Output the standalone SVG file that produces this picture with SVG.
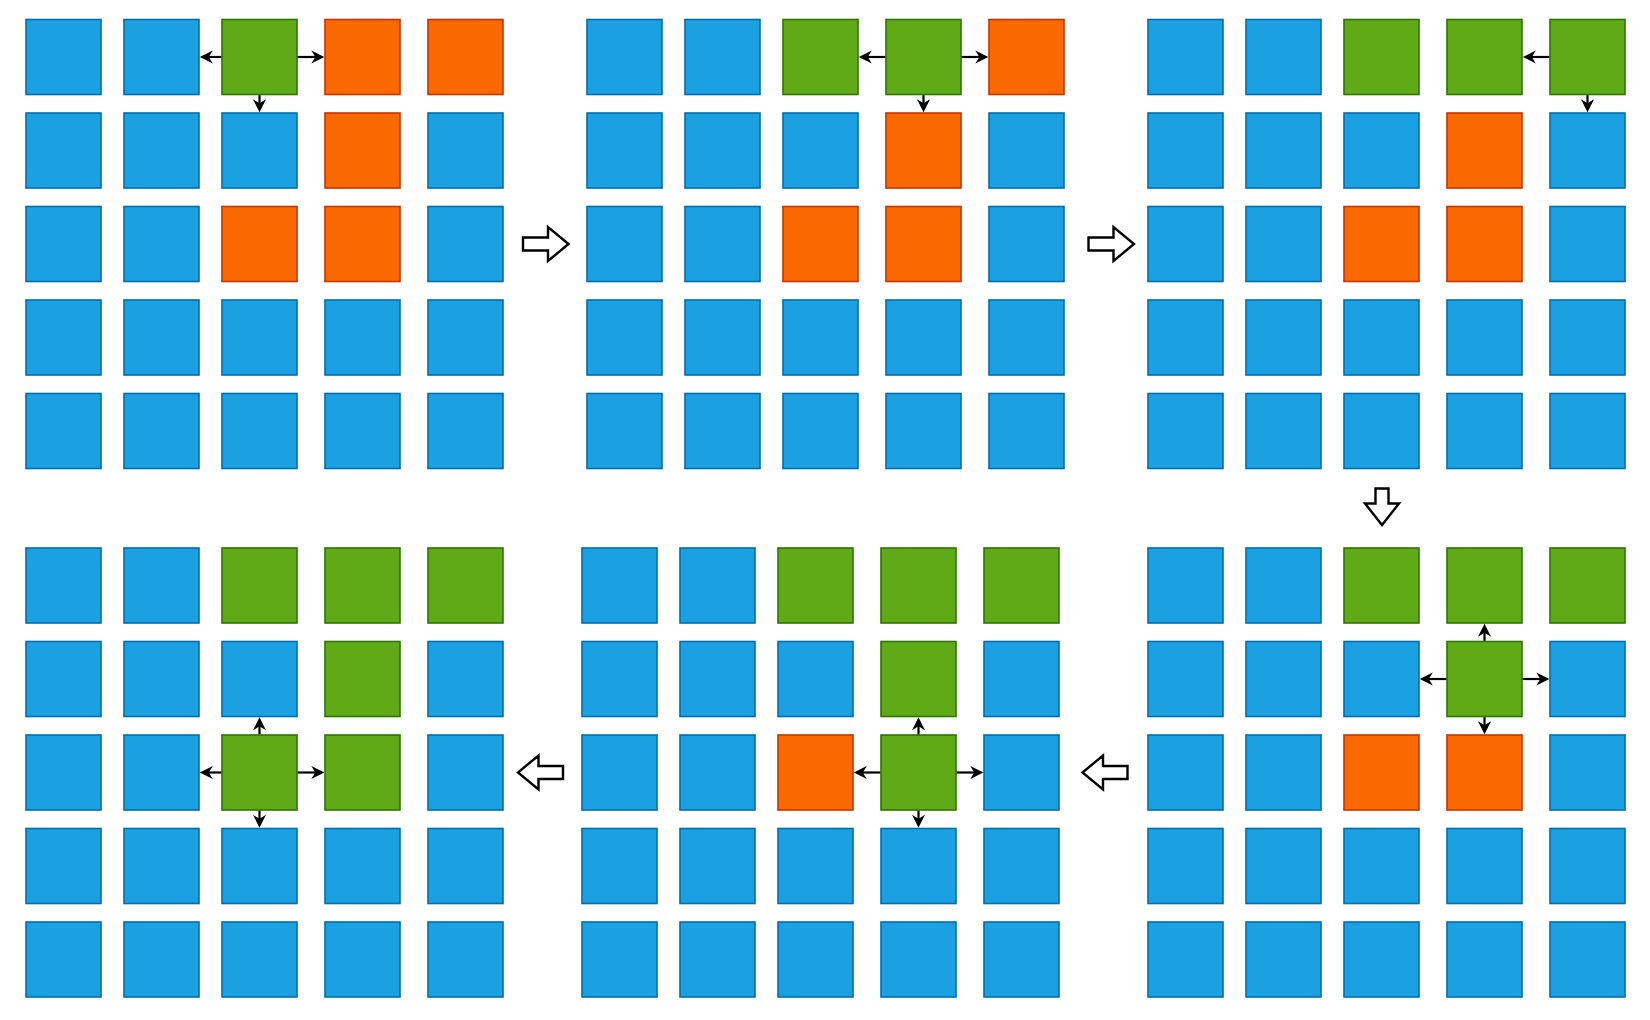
<svg xmlns="http://www.w3.org/2000/svg" xmlns:xlink="http://www.w3.org/1999/xlink" width="1650" height="1020" viewBox="0 0 1650 1020">
<style>
.b{fill:#1ba1e2;stroke:#006eaf;stroke-width:1.6}
.g{fill:#60a917;stroke:#2d7600;stroke-width:1.6}
.o{fill:#fa6800;stroke:#c73500;stroke-width:1.6}
.c{stroke:#000;stroke-width:2.2;fill:none;marker-end:url(#ah)}
.big{fill:#fff;stroke:#000;stroke-width:2.4;stroke-linejoin:miter}
</style>
<defs>
<rect id="s" width="75" height="75"/>
<marker id="ah" markerUnits="userSpaceOnUse" markerWidth="14" markerHeight="14" viewBox="0 0 14 14" refX="7" refY="7" orient="auto">
<path d="M13,7 L0,0.5 L4,7 L0,13.5 Z" fill="#000"/>
</marker>
</defs>
<rect width="1650" height="1020" fill="#fff"/>

<g id="panelA">
<use id="A00" href="#s" class="b" x="26" y="19.5"/><use id="A01" href="#s" class="b" x="124" y="19.5"/><use id="A02" href="#s" class="g" x="222" y="19.5"/><use id="A03" href="#s" class="o" x="325" y="19.5"/><use id="A04" href="#s" class="o" x="428" y="19.5"/>
<use id="A10" href="#s" class="b" x="26" y="113"/><use id="A11" href="#s" class="b" x="124" y="113"/><use id="A12" href="#s" class="b" x="222" y="113"/><use id="A13" href="#s" class="o" x="325" y="113"/><use id="A14" href="#s" class="b" x="428" y="113"/>
<use id="A20" href="#s" class="b" x="26" y="206.5"/><use id="A21" href="#s" class="b" x="124" y="206.5"/><use id="A22" href="#s" class="o" x="222" y="206.5"/><use id="A23" href="#s" class="o" x="325" y="206.5"/><use id="A24" href="#s" class="b" x="428" y="206.5"/>
<use id="A30" href="#s" class="b" x="26" y="300"/><use id="A31" href="#s" class="b" x="124" y="300"/><use id="A32" href="#s" class="b" x="222" y="300"/><use id="A33" href="#s" class="b" x="325" y="300"/><use id="A34" href="#s" class="b" x="428" y="300"/>
<use id="A40" href="#s" class="b" x="26" y="393.5"/><use id="A41" href="#s" class="b" x="124" y="393.5"/><use id="A42" href="#s" class="b" x="222" y="393.5"/><use id="A43" href="#s" class="b" x="325" y="393.5"/><use id="A44" href="#s" class="b" x="428" y="393.5"/>
</g>

<g id="panelB">
<use id="B00" href="#s" class="b" x="587" y="19.5"/><use id="B01" href="#s" class="b" x="685" y="19.5"/><use id="B02" href="#s" class="g" x="783" y="19.5"/><use id="B03" href="#s" class="g" x="886" y="19.5"/><use id="B04" href="#s" class="o" x="989" y="19.5"/>
<use id="B10" href="#s" class="b" x="587" y="113"/><use id="B11" href="#s" class="b" x="685" y="113"/><use id="B12" href="#s" class="b" x="783" y="113"/><use id="B13" href="#s" class="o" x="886" y="113"/><use id="B14" href="#s" class="b" x="989" y="113"/>
<use id="B20" href="#s" class="b" x="587" y="206.5"/><use id="B21" href="#s" class="b" x="685" y="206.5"/><use id="B22" href="#s" class="o" x="783" y="206.5"/><use id="B23" href="#s" class="o" x="886" y="206.5"/><use id="B24" href="#s" class="b" x="989" y="206.5"/>
<use id="B30" href="#s" class="b" x="587" y="300"/><use id="B31" href="#s" class="b" x="685" y="300"/><use id="B32" href="#s" class="b" x="783" y="300"/><use id="B33" href="#s" class="b" x="886" y="300"/><use id="B34" href="#s" class="b" x="989" y="300"/>
<use id="B40" href="#s" class="b" x="587" y="393.5"/><use id="B41" href="#s" class="b" x="685" y="393.5"/><use id="B42" href="#s" class="b" x="783" y="393.5"/><use id="B43" href="#s" class="b" x="886" y="393.5"/><use id="B44" href="#s" class="b" x="989" y="393.5"/>
</g>

<g id="panelC">
<use id="C00" href="#s" class="b" x="1148" y="19.5"/><use id="C01" href="#s" class="b" x="1246" y="19.5"/><use id="C02" href="#s" class="g" x="1344" y="19.5"/><use id="C03" href="#s" class="g" x="1447" y="19.5"/><use id="C04" href="#s" class="g" x="1550" y="19.5"/>
<use id="C10" href="#s" class="b" x="1148" y="113"/><use id="C11" href="#s" class="b" x="1246" y="113"/><use id="C12" href="#s" class="b" x="1344" y="113"/><use id="C13" href="#s" class="o" x="1447" y="113"/><use id="C14" href="#s" class="b" x="1550" y="113"/>
<use id="C20" href="#s" class="b" x="1148" y="206.5"/><use id="C21" href="#s" class="b" x="1246" y="206.5"/><use id="C22" href="#s" class="o" x="1344" y="206.5"/><use id="C23" href="#s" class="o" x="1447" y="206.5"/><use id="C24" href="#s" class="b" x="1550" y="206.5"/>
<use id="C30" href="#s" class="b" x="1148" y="300"/><use id="C31" href="#s" class="b" x="1246" y="300"/><use id="C32" href="#s" class="b" x="1344" y="300"/><use id="C33" href="#s" class="b" x="1447" y="300"/><use id="C34" href="#s" class="b" x="1550" y="300"/>
<use id="C40" href="#s" class="b" x="1148" y="393.5"/><use id="C41" href="#s" class="b" x="1246" y="393.5"/><use id="C42" href="#s" class="b" x="1344" y="393.5"/><use id="C43" href="#s" class="b" x="1447" y="393.5"/><use id="C44" href="#s" class="b" x="1550" y="393.5"/>
</g>

<g id="panelD">
<use id="D00" href="#s" class="b" x="1148" y="548"/><use id="D01" href="#s" class="b" x="1246" y="548"/><use id="D02" href="#s" class="g" x="1344" y="548"/><use id="D03" href="#s" class="g" x="1447" y="548"/><use id="D04" href="#s" class="g" x="1550" y="548"/>
<use id="D10" href="#s" class="b" x="1148" y="641.5"/><use id="D11" href="#s" class="b" x="1246" y="641.5"/><use id="D12" href="#s" class="b" x="1344" y="641.5"/><use id="D13" href="#s" class="g" x="1447" y="641.5"/><use id="D14" href="#s" class="b" x="1550" y="641.5"/>
<use id="D20" href="#s" class="b" x="1148" y="735"/><use id="D21" href="#s" class="b" x="1246" y="735"/><use id="D22" href="#s" class="o" x="1344" y="735"/><use id="D23" href="#s" class="o" x="1447" y="735"/><use id="D24" href="#s" class="b" x="1550" y="735"/>
<use id="D30" href="#s" class="b" x="1148" y="828.5"/><use id="D31" href="#s" class="b" x="1246" y="828.5"/><use id="D32" href="#s" class="b" x="1344" y="828.5"/><use id="D33" href="#s" class="b" x="1447" y="828.5"/><use id="D34" href="#s" class="b" x="1550" y="828.5"/>
<use id="D40" href="#s" class="b" x="1148" y="922"/><use id="D41" href="#s" class="b" x="1246" y="922"/><use id="D42" href="#s" class="b" x="1344" y="922"/><use id="D43" href="#s" class="b" x="1447" y="922"/><use id="D44" href="#s" class="b" x="1550" y="922"/>
</g>

<g id="panelE">
<use id="E00" href="#s" class="b" x="582" y="548"/><use id="E01" href="#s" class="b" x="680" y="548"/><use id="E02" href="#s" class="g" x="778" y="548"/><use id="E03" href="#s" class="g" x="881" y="548"/><use id="E04" href="#s" class="g" x="984" y="548"/>
<use id="E10" href="#s" class="b" x="582" y="641.5"/><use id="E11" href="#s" class="b" x="680" y="641.5"/><use id="E12" href="#s" class="b" x="778" y="641.5"/><use id="E13" href="#s" class="g" x="881" y="641.5"/><use id="E14" href="#s" class="b" x="984" y="641.5"/>
<use id="E20" href="#s" class="b" x="582" y="735"/><use id="E21" href="#s" class="b" x="680" y="735"/><use id="E22" href="#s" class="o" x="778" y="735"/><use id="E23" href="#s" class="g" x="881" y="735"/><use id="E24" href="#s" class="b" x="984" y="735"/>
<use id="E30" href="#s" class="b" x="582" y="828.5"/><use id="E31" href="#s" class="b" x="680" y="828.5"/><use id="E32" href="#s" class="b" x="778" y="828.5"/><use id="E33" href="#s" class="b" x="881" y="828.5"/><use id="E34" href="#s" class="b" x="984" y="828.5"/>
<use id="E40" href="#s" class="b" x="582" y="922"/><use id="E41" href="#s" class="b" x="680" y="922"/><use id="E42" href="#s" class="b" x="778" y="922"/><use id="E43" href="#s" class="b" x="881" y="922"/><use id="E44" href="#s" class="b" x="984" y="922"/>
</g>

<g id="panelF">
<use id="F00" href="#s" class="b" x="26" y="548"/><use id="F01" href="#s" class="b" x="124" y="548"/><use id="F02" href="#s" class="g" x="222" y="548"/><use id="F03" href="#s" class="g" x="325" y="548"/><use id="F04" href="#s" class="g" x="428" y="548"/>
<use id="F10" href="#s" class="b" x="26" y="641.5"/><use id="F11" href="#s" class="b" x="124" y="641.5"/><use id="F12" href="#s" class="b" x="222" y="641.5"/><use id="F13" href="#s" class="g" x="325" y="641.5"/><use id="F14" href="#s" class="b" x="428" y="641.5"/>
<use id="F20" href="#s" class="b" x="26" y="735"/><use id="F21" href="#s" class="b" x="124" y="735"/><use id="F22" href="#s" class="g" x="222" y="735"/><use id="F23" href="#s" class="g" x="325" y="735"/><use id="F24" href="#s" class="b" x="428" y="735"/>
<use id="F30" href="#s" class="b" x="26" y="828.5"/><use id="F31" href="#s" class="b" x="124" y="828.5"/><use id="F32" href="#s" class="b" x="222" y="828.5"/><use id="F33" href="#s" class="b" x="325" y="828.5"/><use id="F34" href="#s" class="b" x="428" y="828.5"/>
<use id="F40" href="#s" class="b" x="26" y="922"/><use id="F41" href="#s" class="b" x="124" y="922"/><use id="F42" href="#s" class="b" x="222" y="922"/><use id="F43" href="#s" class="b" x="325" y="922"/><use id="F44" href="#s" class="b" x="428" y="922"/>
</g>

<g id="connectors">
<!-- panel A -->
<path class="c" d="M221.3,57 H205.8"/>
<path class="c" d="M297.7,57 H318.3"/>
<path class="c" d="M259.5,95.2 V106.3"/>
<!-- panel B -->
<path class="c" d="M885.3,57 H864.8"/>
<path class="c" d="M961.7,57 H982.3"/>
<path class="c" d="M923.5,95.2 V106.3"/>
<!-- panel C -->
<path class="c" d="M1549.3,57 H1528.8"/>
<path class="c" d="M1587.5,95.2 V106.3"/>
<!-- panel D -->
<path class="c" d="M1484.5,640.8 V629.8"/>
<path class="c" d="M1446.3,679 H1425.8"/>
<path class="c" d="M1522.7,679 H1543.3"/>
<path class="c" d="M1484.5,717.2 V728.3"/>
<!-- panel E -->
<path class="c" d="M918.5,734.3 V723.3"/>
<path class="c" d="M880.3,772.5 H859.8"/>
<path class="c" d="M956.7,772.5 H977.3"/>
<path class="c" d="M918.5,810.7 V821.8"/>
<!-- panel F -->
<path class="c" d="M259.5,734.3 V723.3"/>
<path class="c" d="M221.3,772.5 H205.8"/>
<path class="c" d="M297.7,772.5 H318.3"/>
<path class="c" d="M259.5,810.7 V821.8"/>
<!-- step arrows -->
<polygon class="big" points="523,237.5 548,237.5 548,227 568.5,244 548,261 548,250.5 523,250.5"/>
<polygon class="big" points="1088.5,237.5 1113.5,237.5 1113.5,227 1134,244 1113.5,261 1113.5,250.5 1088.5,250.5"/>
<polygon class="big" points="1375.5,488.5 1388.5,488.5 1388.5,503.5 1399,503.5 1382,525 1365,503.5 1375.5,503.5"/>
<polygon class="big" points="1127.5,766 1103,766 1103,755.5 1082.5,772.5 1103,789.5 1103,779 1127.5,779"/>
<polygon class="big" points="563,766 538.5,766 538.5,755.5 518,772.5 538.5,789.5 538.5,779 563,779"/>
</g>
</svg>
